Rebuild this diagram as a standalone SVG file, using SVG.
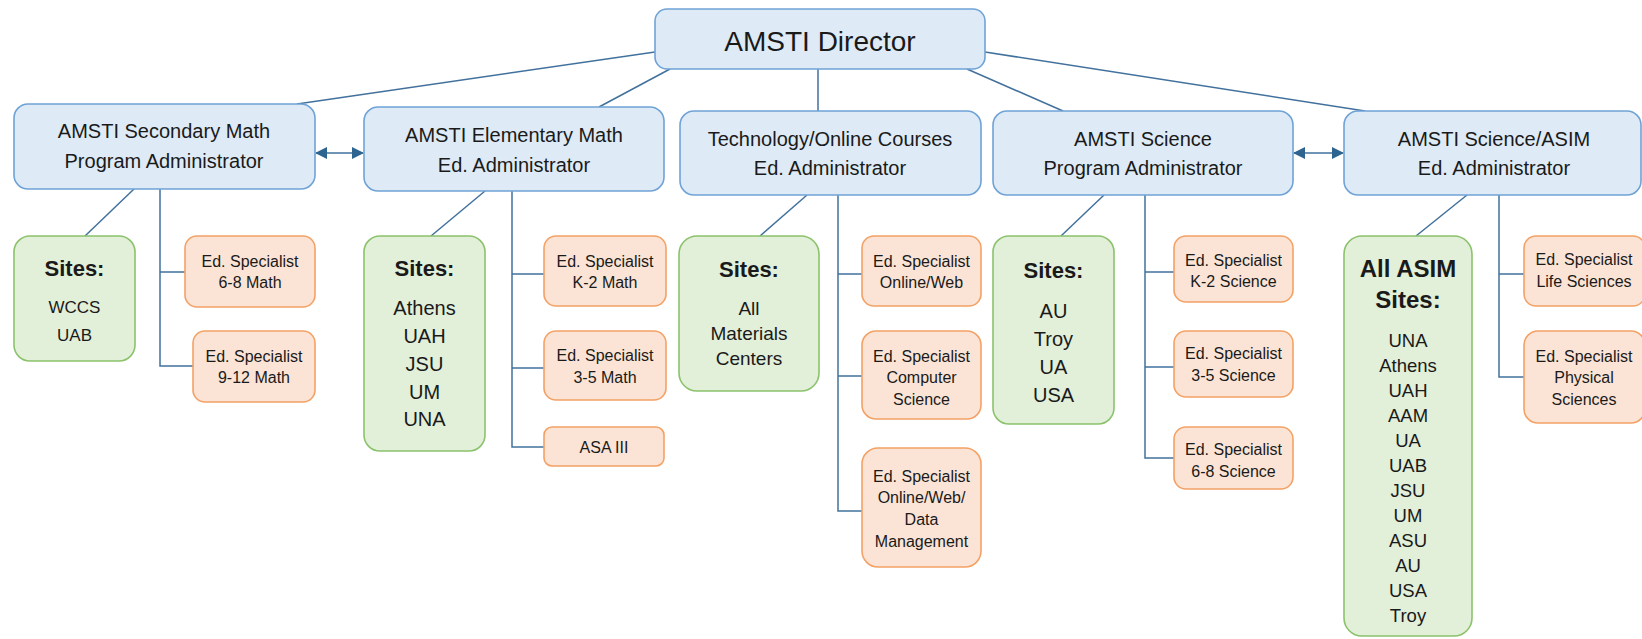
<svg xmlns="http://www.w3.org/2000/svg" width="1642" height="639" viewBox="0 0 1642 639">
<style>
text{font-family:"Liberation Sans",Arial,sans-serif;fill:#1a1a1a;text-anchor:middle}
.blue{fill:#DEEBF7;stroke:#6FA3D6;stroke-width:1.6}
.green{fill:#E2EFD9;stroke:#8BC26B;stroke-width:1.6}
.orange{fill:#FBE4D5;stroke:#F4A165;stroke-width:1.6}
.t1{font-size:20px}
.t0{font-size:28px}
.ts{font-size:16px}
.hd{font-size:22px;font-weight:bold}
.sl{font-size:20px}
.con line,.con polyline{stroke:#41719C;stroke-width:1.5;fill:none}
</style>
<defs>
<marker id="ah" viewBox="0 0 12 12" refX="11" refY="6" markerWidth="12" markerHeight="12" markerUnits="userSpaceOnUse" orient="auto-start-reverse">
<path d="M0,0 L12,6 L0,12 Z" fill="#2E6590"/>
</marker>
</defs>
<rect width="1642" height="639" fill="#ffffff"/>
<g class="con" id="connectors">
<line x1="655" y1="52" x2="297" y2="104"/>
<line x1="670" y1="69" x2="599" y2="107"/>
<line x1="818" y1="69" x2="818" y2="111"/>
<line x1="967" y1="69" x2="1063" y2="111"/>
<line x1="985" y1="52" x2="1365" y2="111"/>
<line x1="316" y1="153" x2="363" y2="153" marker-start="url(#ah)" marker-end="url(#ah)"/>
<line x1="1294" y1="153" x2="1343" y2="153" marker-start="url(#ah)" marker-end="url(#ah)"/>
<line x1="134" y1="189" x2="85" y2="236"/>
<polyline points="160,189 160,366 193,366"/>
<line x1="160" y1="272" x2="185" y2="272"/>
<line x1="485" y1="191" x2="431" y2="236"/>
<polyline points="512,191 512,447 544,447"/>
<line x1="512" y1="274" x2="544" y2="274"/>
<line x1="512" y1="368" x2="544" y2="368"/>
<line x1="807" y1="195" x2="760" y2="236"/>
<polyline points="838,195 838,511 862,511"/>
<line x1="838" y1="274" x2="862" y2="274"/>
<line x1="838" y1="376" x2="862" y2="376"/>
<line x1="1104" y1="195" x2="1061" y2="236"/>
<polyline points="1145,195 1145,458 1174,458"/>
<line x1="1145" y1="272" x2="1174" y2="272"/>
<line x1="1145" y1="367" x2="1174" y2="367"/>
<line x1="1467" y1="195" x2="1416" y2="236"/>
<polyline points="1499,195 1499,377 1524,377"/>
<line x1="1499" y1="274" x2="1524" y2="274"/>
</g>
<g id="director"><rect class="blue" x="655" y="9" width="330" height="60" rx="12"/><text class="t0" x="820" y="51">AMSTI Director</text></g>
<g id="secondary"><rect class="blue" x="14" y="104" width="301" height="85" rx="14"/><text class="t1" x="164" y="138">AMSTI Secondary Math</text><text class="t1" x="164" y="168">Program Administrator</text></g>
<g id="elementary"><rect class="blue" x="364" y="107" width="300" height="84" rx="14"/><text class="t1" x="514" y="142">AMSTI Elementary Math</text><text class="t1" x="514" y="172">Ed. Administrator</text></g>
<g id="tech"><rect class="blue" x="680" y="111" width="301" height="84" rx="14"/><text class="t1" x="830" y="146">Technology/Online Courses</text><text class="t1" x="830" y="175">Ed. Administrator</text></g>
<g id="science"><rect class="blue" x="993" y="111" width="300" height="84" rx="14"/><text class="t1" x="1143" y="146">AMSTI Science</text><text class="t1" x="1143" y="175">Program Administrator</text></g>
<g id="asim"><rect class="blue" x="1344" y="111" width="297" height="84" rx="14"/><text class="t1" x="1494" y="146">AMSTI Science/ASIM</text><text class="t1" x="1494" y="175">Ed. Administrator</text></g>
<g id="sites-secondary"><rect class="green" x="14" y="236" width="121" height="125" rx="16"/><text class="hd" x="74.5" y="276">Sites:</text><text x="74.5" y="313" style="font-size:17px">WCCS</text><text x="74.5" y="341" style="font-size:17px">UAB</text></g>
<g id="spec-6-8-math"><rect class="orange" x="185" y="236" width="130" height="71" rx="12"/><text class="ts" x="250" y="267">Ed. Specialist</text><text class="ts" x="250" y="288">6-8 Math</text></g>
<g id="spec-9-12-math"><rect class="orange" x="193" y="331" width="122" height="71" rx="12"/><text class="ts" x="254" y="362">Ed. Specialist</text><text class="ts" x="254" y="383">9-12 Math</text></g>
<g id="sites-elementary"><rect class="green" x="364" y="236" width="121" height="215" rx="16"/><text class="hd" x="424.5" y="276">Sites:</text><text class="sl" x="424.5" y="315">Athens</text><text class="sl" x="424.5" y="343">UAH</text><text class="sl" x="424.5" y="371">JSU</text><text class="sl" x="424.5" y="399">UM</text><text class="sl" x="424.5" y="426">UNA</text></g>
<g id="spec-k2-math"><rect class="orange" x="544" y="236" width="122" height="70" rx="12"/><text class="ts" x="605" y="267">Ed. Specialist</text><text class="ts" x="605" y="288">K-2 Math</text></g>
<g id="spec-3-5-math"><rect class="orange" x="544" y="331" width="122" height="69" rx="12"/><text class="ts" x="605" y="361">Ed. Specialist</text><text class="ts" x="605" y="383">3-5 Math</text></g>
<g id="asa-iii"><rect class="orange" x="544" y="427" width="120" height="39" rx="8"/><text class="ts" x="604" y="453">ASA III</text></g>
<g id="sites-tech"><rect class="green" x="679" y="236" width="140" height="155" rx="18"/><text class="hd" x="749" y="277">Sites:</text><text x="749" y="315" style="font-size:19px">All</text><text x="749" y="340" style="font-size:19px">Materials</text><text x="749" y="365" style="font-size:19px">Centers</text></g>
<g id="spec-online-web"><rect class="orange" x="862" y="236" width="119" height="70" rx="12"/><text class="ts" x="921.5" y="267">Ed. Specialist</text><text class="ts" x="921.5" y="288">Online/Web</text></g>
<g id="spec-cs"><rect class="orange" x="862" y="331" width="119" height="88" rx="14"/><text class="ts" x="921.5" y="362">Ed. Specialist</text><text class="ts" x="921.5" y="383">Computer</text><text class="ts" x="921.5" y="405">Science</text></g>
<g id="spec-data"><rect class="orange" x="862" y="448" width="119" height="119" rx="16"/><text class="ts" x="921.5" y="482">Ed. Specialist</text><text class="ts" x="921.5" y="503">Online/Web/</text><text class="ts" x="921.5" y="525">Data</text><text class="ts" x="921.5" y="547">Management</text></g>
<g id="sites-science"><rect class="green" x="993" y="236" width="121" height="188" rx="16"/><text class="hd" x="1053.5" y="278">Sites:</text><text class="sl" x="1053.5" y="318">AU</text><text class="sl" x="1053.5" y="346">Troy</text><text class="sl" x="1053.5" y="374">UA</text><text class="sl" x="1053.5" y="402">USA</text></g>
<g id="spec-k2-sci"><rect class="orange" x="1174" y="236" width="119" height="66" rx="12"/><text class="ts" x="1233.5" y="266">Ed. Specialist</text><text class="ts" x="1233.5" y="287">K-2 Science</text></g>
<g id="spec-3-5-sci"><rect class="orange" x="1174" y="331" width="119" height="66" rx="12"/><text class="ts" x="1233.5" y="359">Ed. Specialist</text><text class="ts" x="1233.5" y="381">3-5 Science</text></g>
<g id="spec-6-8-sci"><rect class="orange" x="1174" y="427" width="119" height="62" rx="12"/><text class="ts" x="1233.5" y="455">Ed. Specialist</text><text class="ts" x="1233.5" y="477">6-8 Science</text></g>
<g id="sites-asim"><rect class="green" x="1344" y="236" width="128" height="400" rx="18"/><text class="hd" x="1408" y="277" style="font-size:24px">All ASIM</text><text class="hd" x="1408" y="308" style="font-size:24px">Sites:</text>
<g style="font-size:18.5px"><text x="1408" y="347">UNA</text><text x="1408" y="372">Athens</text><text x="1408" y="397">UAH</text><text x="1408" y="422">AAM</text><text x="1408" y="447">UA</text><text x="1408" y="472">UAB</text><text x="1408" y="497">JSU</text><text x="1408" y="522">UM</text><text x="1408" y="547">ASU</text><text x="1408" y="572">AU</text><text x="1408" y="597">USA</text><text x="1408" y="622">Troy</text></g></g>
<g id="spec-life"><rect class="orange" x="1524" y="236" width="121" height="70" rx="12"/><text class="ts" x="1584" y="265">Ed. Specialist</text><text class="ts" x="1584" y="287">Life Sciences</text></g>
<g id="spec-physical"><rect class="orange" x="1524" y="331" width="121" height="92" rx="14"/><text class="ts" x="1584" y="362">Ed. Specialist</text><text class="ts" x="1584" y="383">Physical</text><text class="ts" x="1584" y="405">Sciences</text></g>
</svg>
